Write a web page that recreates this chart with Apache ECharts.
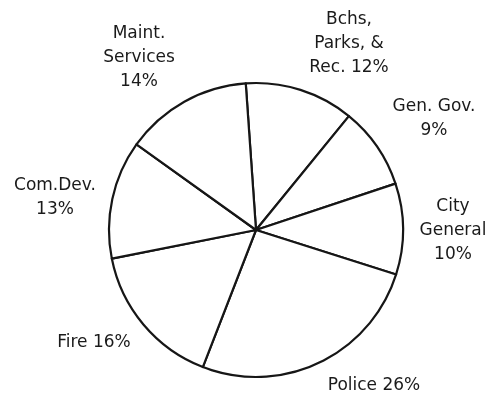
<!DOCTYPE html>
<html>
<head>
<meta charset="utf-8">
<script src="https://cdn.jsdelivr.net/npm/echarts@6/dist/echarts.min.js"></script>
<style>
  html, body { margin: 0; padding: 0; background: #fff; }
  #chart { width: 488px; height: 396px; }
</style>
</head>
<body>
<div id="chart"></div>
<script>
// Budget shares by department, listed clockwise from the top
const categories = ['Bchs, Parks, &', 'Gen. Gov.', 'City General', 'Police', 'Fire', 'Com.Dev.', 'Maint. Services'];
const shares = [12, 9, 10, 26, 16, 13, 14];
// Label text as printed (line breaks included)
const labelLines = [
  ['Bchs,', 'Parks, &', 'Rec. {v}%'],
  ['Gen. Gov.', '{v}%'],
  ['City', 'General', '{v}%'],
  ['Police {v}%'],
  ['Fire {v}%'],
  ['Com.Dev.', '{v}%'],
  ['Maint.', 'Services', '{v}%']
];
// Label anchor points (centre of each text block), in pixels
const labelAnchors = [
  [349, 44], [434, 119], [453, 231], [374, 386], [94, 343], [55, 198], [139, 58]
];

const chart = echarts.init(document.getElementById('chart'), null, { renderer: 'canvas' });
chart.setOption({
  animation: false,
  backgroundColor: '#ffffff',
  series: [{
    type: 'pie',
    center: [256, 230],
    radius: [0, 147],
    startAngle: 94,
    clockwise: true,
    silent: true,
    itemStyle: { color: '#ffffff', borderColor: '#161616', borderWidth: 2.2 },
    label: {
      show: true,
      position: 'outside',
      color: '#1a1a1a',
      fontFamily: 'DejaVu Sans',
      fontSize: 17,
      lineHeight: 24,
      align: 'center',
      overflow: 'none',
      width: 200,
      formatter: p => labelLines[p.dataIndex].join('\n').replace('{v}', p.value)
    },
    labelLine: { show: false },
    labelLayout: p => ({
      x: labelAnchors[p.dataIndex][0],
      y: labelAnchors[p.dataIndex][1],
      align: 'center',
      verticalAlign: 'middle'
    }),
    data: categories.map((name, i) => ({ name, value: shares[i] }))
  }]
});
</script>
</body>
</html>
